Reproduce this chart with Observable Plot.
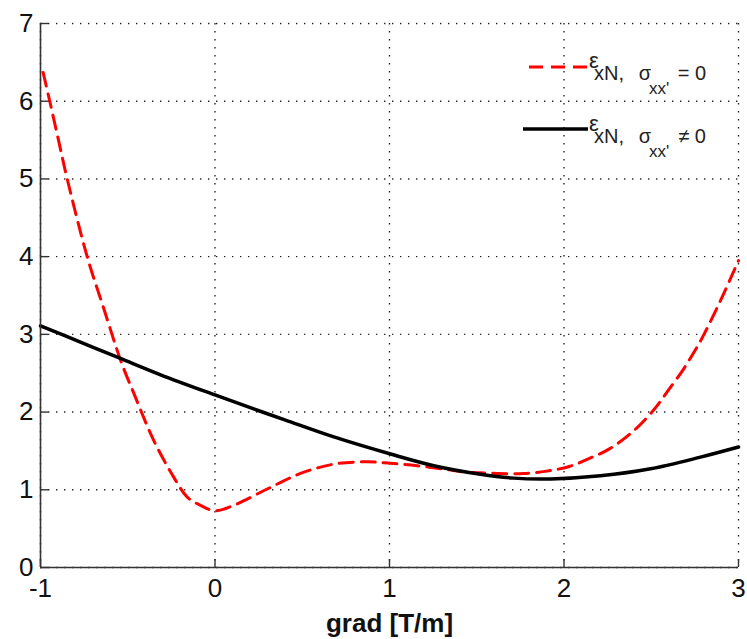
<!DOCTYPE html>
<html>
<head>
<meta charset="utf-8">
<script src="https://cdn.jsdelivr.net/npm/d3@7"></script>
<script src="https://cdn.jsdelivr.net/npm/@observablehq/plot@0.6"></script>
<style>
  html, body { margin: 0; padding: 0; background: #fff; }
  #chart { width: 747px; height: 639px; }
</style>
</head>
<body>
<div id="chart"></div>
<script>
// Red dashed series: epsilon_xN with sigma_xx' = 0
const redX = [-0.985, -0.947, -0.895, -0.847, -0.73, -0.637, -0.54, -0.465, -0.35, -0.236, -0.159, -0.083, 0, 0.108, 0.299, 0.49, 0.681, 0.872, 1.006, 1.158, 1.33, 1.426, 1.617, 1.77, 1.9, 2.03, 2.152, 2.263, 2.39, 2.515, 2.591, 2.687, 2.763, 2.8, 2.9, 3];
const redY = [6.37, 6.0, 5.48, 5.0, 3.98, 3.33, 2.66, 2.24, 1.63, 1.16, 0.905, 0.80, 0.73, 0.80, 1.01, 1.21, 1.33, 1.36, 1.34, 1.31, 1.26, 1.23, 1.21, 1.21, 1.24, 1.30, 1.41, 1.53, 1.74, 2.03, 2.26, 2.56, 2.84, 2.99, 3.45, 3.95];
// Black solid series: epsilon_xN with sigma_xx' != 0
const blackX = [-1, -0.771, -0.542, -0.312, 0, 0.222, 0.4, 0.681, 1.006, 1.254, 1.521, 1.712, 1.923, 2.209, 2.496, 2.782, 3];
const blackY = [3.11, 2.90, 2.69, 2.48, 2.22, 2.04, 1.90, 1.68, 1.46, 1.31, 1.20, 1.15, 1.14, 1.18, 1.27, 1.42, 1.55];
const xTicks = [-1, 0, 1, 2, 3];
const yTicks = [0, 1, 2, 3, 4, 5, 6, 7];
const xLabel = "grad [T/m]";
const legendOps = ["= 0", "≠ 0"];

const red = redX.map((x, i) => ({x, y: redY[i]}));
const black = blackX.map((x, i) => ({x, y: blackY[i]}));

const W = 747, H = 639, mL = 40, mR = 9, mT = 23, mB = 72;
const frameW = W - mL - mR, frameH = H - mT - mB;
const tickLen = 8;

const font = "Liberation Sans, Arial, Helvetica, sans-serif";
const gridStyle = {stroke: "#000", strokeOpacity: 0.85, strokeWidth: 1.4, strokeDasharray: "1.4,6.6"};
const axisColor = "#333";

const plot = Plot.plot({
  width: W,
  height: H,
  marginLeft: mL,
  marginRight: mR,
  marginTop: mT,
  marginBottom: mB,
  style: {fontFamily: font, background: "#fff", overflow: "visible"},
  x: {domain: [-1, 3]},
  y: {domain: [0, 7]},
  marks: [
    Plot.gridX(xTicks, gridStyle),
    Plot.gridY(yTicks, gridStyle),
    Plot.line(red, {x: "x", y: "y", stroke: "#ff0000", strokeWidth: 3, strokeDasharray: "14,8", curve: "catmull-rom"}),
    Plot.line(black, {x: "x", y: "y", stroke: "#000", strokeWidth: 3.5, curve: "catmull-rom"}),
    // inward tick marks (MATLAB style)
    Plot.ruleY(yTicks, {y: d => d, stroke: axisColor, strokeWidth: 1.4, insetRight: frameW - tickLen}),
    Plot.ruleX(xTicks, {x: d => d, stroke: axisColor, strokeWidth: 1.4, insetTop: frameH - tickLen}),
    Plot.ruleX([-1], {stroke: axisColor, strokeWidth: 1.6}),
    Plot.ruleY([0], {stroke: axisColor, strokeWidth: 1.6}),
    Plot.axisY(yTicks, {tickSize: 0, tickPadding: 7, fontSize: 26, fill: "#111", tickFormat: d => String(d), label: null}),
    Plot.axisX(xTicks, {tickSize: 0, tickPadding: 11, fontSize: 26, fill: "#111", tickFormat: d => String(d), label: null}),
    Plot.text([xLabel], {frameAnchor: "bottom", dy: 64, fontSize: 26, fontWeight: "bold", fill: "#111", text: d => d})
  ]
});

document.getElementById("chart").appendChild(plot);

// Legend (inside plot, top right, no box)
const svg = d3.select(plot);
const lg = svg.append("g").attr("font-family", font).attr("fill", "#222");
const rows = [
  {lineY: 67, x1: 529, stroke: "#ff0000", width: 3, dash: "14,8", op: legendOps[0], dy: 0},
  {lineY: 129, x1: 523, stroke: "#000", width: 3.5, dash: null, op: legendOps[1], dy: 63}
];
rows.forEach(r => {
  lg.append("line").attr("x1", r.x1).attr("x2", 588).attr("y1", r.lineY).attr("y2", r.lineY)
    .attr("stroke", r.stroke).attr("stroke-width", r.width).attr("stroke-dasharray", r.dash);
  const txt = lg.append("text");
  const part = (s, x, y, size) => {
    txt.append("tspan").attr("x", x).attr("y", y + r.dy).style("font-size", size + "px").text(s);
  };
  part("ε", 594, 68, 22);
  part("xN,", 609, 80, 20);
  part("σ", 645, 80, 20);
  part("xx'", 659, 94, 17);
  part(r.op, 692, 80, 20);
});
</script>
</body>
</html>
